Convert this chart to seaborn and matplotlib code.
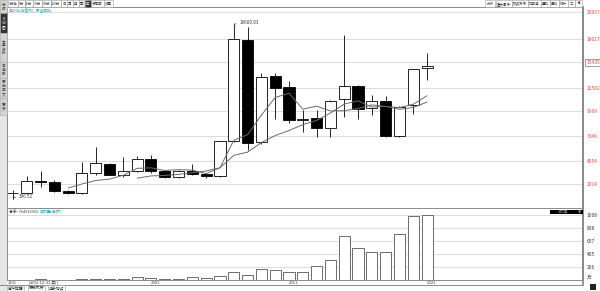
import numpy as np
import pandas as pd
import matplotlib
matplotlib.use("Agg")
import matplotlib.pyplot as plt
from matplotlib.patches import Rectangle
import seaborn as sns

# ---------------- data ----------------
years = list(range(1991, 2022))
opens = [1005, 990, 2300, 2200, 1280, 990, 3190, 4214, 3004, 3400, 4764, 3477, 2817, 3477, 3114,
         2894, 6750, 17900, 6600, 13894, 12717, 9100, 9241, 8207, 11331, 12794, 10341, 11177, 7327, 10704, 14740]
highs = [1400, 2894, 3480, 2400, 1400, 4470, 6100, 4300, 5017, 5094, 5204, 3600, 3600, 4214, 3200,
         6700, 19600.03, 19300, 14257, 14190, 13344, 10154, 10100, 11250, 18404, 12900, 11804, 11694, 10600, 14700, 16457]
lows = [396.52, 950, 1717, 1150, 900, 950, 3000, 2950, 2817, 3300, 3191, 2700, 2700, 2950, 2641,
        2800, 6600, 5754, 6450, 9130, 8691, 7767, 7151, 7151, 9417, 9130, 9604, 7151, 7217, 9714, 13454]
closes = [990, 2340, 2260, 1280, 990, 3190, 4290, 3004, 3400, 4800, 3477, 2817, 3477, 3114, 2894,
          6700, 17964, 6557, 13817, 12607, 9054, 9200, 8207, 11144, 12794, 10297, 11144, 7327, 10517, 14631, 14996]
volumes = [3, 5, 8, 6, 7, 20, 22, 20, 22, 42, 34, 20, 20, 42, 30,
           58, 126, 79, 173, 157, 126, 130, 210, 304, 688, 493, 430, 441, 720, 992, 1008]

price_ticks = [2014, 4554, 7346, 9999, 12582, 15435, 18017, 20957]
vol_ticks = [206, 405, 607, 808, 1008]
x_labels = {0: "1991", 10: "2001", 20: "2011", 30: "2021"}

toolbar_left = ["1分钟", "5分", "15分", "30分", "60分", "120分", "日", "周", "月", "季", "年", "多周期", "设置"]
toolbar_right = ["九转", "重大事件", "热点资讯", "加自选", "叠加", "画线", "统计", "□", "◀"]
side_tabs = ["分时", "K线图", "大盘资料", "自选股", "历史成交", "更多"]
bottom_tabs = ["事件提醒", "历史机会", "选手地点"]

# ---------------- setup ----------------
sns.set_style("white")
plt.rcParams["font.family"] = ["Noto Sans CJK SC", "DejaVu Sans"]
plt.rcParams["axes.unicode_minus"] = False

W, H = 600, 291
fig = plt.figure(figsize=(6.0, 2.91), dpi=100)
fig.patch.set_facecolor("white")


def fx(x):
    return x / W


def fy(y):
    return 1 - y / H


def axes_px(x0, y0, x1, y1):
    return fig.add_axes([fx(x0), fy(y1), fx(x1) - fx(x0), fy(y0) - fy(y1)])


df = pd.DataFrame({"year": years, "open": opens, "high": highs, "low": lows,
                   "close": closes, "volume": volumes})
df["idx"] = np.arange(len(df))
df["ma5"] = df["close"].rolling(5).mean()
df["ma10"] = df["close"].rolling(10).mean()

x_left, x_right = -0.43, 41.3
grid_c = "#dddddd"
edge_c = "#8a8a8a"
red = "#e0453a"
teal = "#2a9fb5"

# ---------------- main price panel ----------------
ax = axes_px(7, 7, 583, 208)
ax.set_xlim(x_left, x_right)
ax.set_ylim(-626, 21484)
for t in price_ticks:
    ax.axhline(t, color=grid_c, lw=0.8, zorder=0)

up = df["close"] >= df["open"]
ax.vlines(df["idx"], df["low"], df["high"], color="black", lw=0.6, zorder=1)
body_bottom = np.minimum(df["open"], df["close"])
body_h = np.maximum(np.abs(df["close"] - df["open"]), 40)
ax.bar(df["idx"], body_h, bottom=body_bottom, width=0.8,
       color=np.where(up, "white", "black"), edgecolor="black", linewidth=0.6, zorder=2)

sns.lineplot(data=df.dropna(subset=["ma5"]), x="idx", y="ma5", ax=ax, color="#6a6a6a", lw=0.7, zorder=3)
sns.lineplot(data=df.dropna(subset=["ma10"]), x="idx", y="ma10", ax=ax, color="#6a6a6a", lw=0.7, zorder=3)

ax.yaxis.tick_right()
ax.set_yticks(price_ticks)
ax.set_yticklabels([str(t) for t in price_ticks])
ax.tick_params(axis="y", length=0, pad=2.5, labelsize=3.5, labelcolor=red)
for lab in ax.get_yticklabels():
    if lab.get_text() == "15435":
        lab.set_bbox(dict(boxstyle="square,pad=0.25", fc="white", ec="#777777", lw=0.5))
ax.set_xticks([])
ax.set_xlabel("")
ax.set_ylabel("")
for s in ["top", "left", "bottom", "right"]:
    ax.spines[s].set_color(edge_c)
    ax.spines[s].set_linewidth(0.7)
ax.spines["right"].set_linewidth(1.2)

# high / low markers
ih = int(df["high"].idxmax())
il = int(df["low"].idxmin())
ax.annotate(f"{df['high'][ih]:.2f}", xy=(ih, df["high"][ih]), xytext=(4, 1), textcoords="offset points",
            fontsize=3.3, va="center", ha="left", color="#333333",
            arrowprops=dict(arrowstyle="-", lw=0.5, color="#333333", shrinkA=0, shrinkB=0))
ax.annotate(f"{df['low'][il]:.2f}", xy=(il, df["low"][il]), xytext=(4, 1.5), textcoords="offset points",
            fontsize=3.3, va="center", ha="left", color="#333333",
            arrowprops=dict(arrowstyle="-", lw=0.5, color="#333333", shrinkA=0, shrinkB=0,
                            connectionstyle="angle,angleA=0,angleB=90,rad=0"))

# ---------------- volume panel ----------------
axv = axes_px(7, 208, 583, 280)
sns.barplot(data=df, x="idx", y="volume", native_scale=True, ax=axv, color="white",
            saturation=1, edgecolor="#555555", linewidth=0.6, width=0.8, zorder=2)
axv.set_xlim(x_left, x_right)
axv.set_ylim(0, 1116)
for t in vol_ticks:
    axv.axhline(t, color=grid_c, lw=0.8, zorder=0)
axv.yaxis.tick_right()
axv.set_yticks(vol_ticks + [40])
axv.set_yticklabels([str(t) for t in vol_ticks] + ["万"])
axv.tick_params(axis="y", length=0, pad=2.5, labelsize=3.5, labelcolor="#333333")
axv.set_xticks([])
axv.set_xlabel("")
axv.set_ylabel("")
for s in ["top", "left", "bottom", "right"]:
    axv.spines[s].set_color(edge_c)
    axv.spines[s].set_linewidth(0.7)
axv.spines["right"].set_linewidth(1.2)

# ---------------- chrome / texts ----------------
# left sidebar
fig.patches.append(Rectangle((0, 0), fx(7), 1, transform=fig.transFigure, fc="#e6e6e6", ec="none", zorder=0))
tab_y = [0, 13, 33, 62, 78, 98, 115]
for i, name in enumerate(side_tabs):
    y0, y1 = tab_y[i], tab_y[i + 1]
    dark = (i == 1)
    fig.patches.append(Rectangle((0, fy(y1)), fx(7), fy(y0) - fy(y1), transform=fig.transFigure,
                                 fc="#333333" if dark else "#d2d2d2", ec="#aaaaaa", lw=0.4, zorder=1))
    fig.text(fx(3.5), fy((y0 + y1) / 2), "\n".join(name), fontsize=2.6, ha="center", va="center",
             color="white" if dark else "#333333", linespacing=1.0, zorder=2)

# top toolbar left (sequential boxes)
tl_x = [8, 18, 25, 33, 42, 51, 61, 67, 73, 79, 85, 91, 104]
tl_w = [9.5, 6.5, 7.5, 8.5, 8.5, 9.5, 5.5, 5.5, 5.5, 5.5, 5.5, 12.5, 9]
for x, w, name in zip(tl_x, tl_w, toolbar_left):
    sel = name == "年"
    fig.patches.append(Rectangle((fx(x), fy(7)), fx(w), fy(0.5) - fy(7), transform=fig.transFigure,
                                 fc="#333333" if sel else "white", ec="#999999", lw=0.4, zorder=3))
    fig.text(fx(x + w / 2), fy(3.8), name, fontsize=2.5, ha="center", va="center",
             color="white" if sel else "#333333", zorder=4)
tr_x = [485, 496, 512, 528, 541, 550, 559, 568, 575]
tr_w = [10, 15.5, 15.5, 12.5, 8.5, 8.5, 8.5, 6.5, 7]
for x, w, name in zip(tr_x, tr_w, toolbar_right):
    fig.patches.append(Rectangle((fx(x), fy(7)), fx(w), fy(0.5) - fy(7), transform=fig.transFigure,
                                 fc="white", ec="#999999", lw=0.4, zorder=3))
    fig.text(fx(x + w / 2), fy(3.8), name, fontsize=2.5, ha="center", va="center", color="#333333", zorder=4)

# panel titles
fig.text(fx(9), fy(10.5), "年K线(前复权)  深证成指", fontsize=2.8, ha="left", va="center", color=teal)
fig.text(fx(9), fy(212), "总手: 764916391", fontsize=2.8, ha="left", va="center", color="#333333")
fig.text(fx(40), fy(212), "成交量(总额)", fontsize=2.8, ha="left", va="center", color=teal)

# black box in volume panel
fig.patches.append(Rectangle((fx(550), fy(213.5)), fx(583) - fx(550), fy(209.5) - fy(213.5),
                             transform=fig.transFigure, fc="black", ec="none", zorder=5))
fig.text(fx(563), fy(211.5), "成交量", fontsize=2.5, ha="center", va="center", color="#888888", zorder=6)
fig.text(fx(580), fy(211.5), "▼", fontsize=2.3, ha="center", va="center", color="#bbbbbb", zorder=6)

# x axis labels
for i, lab in x_labels.items():
    xpix = 13 + 13.8 * i
    fig.text(fx(xpix - 5 if i == 0 else xpix), fy(282.5), lab, fontsize=3.0, ha="left", va="center",
             color="#333333")
fig.text(fx(30), fy(282.5), "1992-12-31,四", fontsize=3.0, ha="left", va="center", color="#333333",
         bbox=dict(boxstyle="square,pad=0.2", fc="white", ec="#777777", lw=0.4))
fig.lines.append(plt.Line2D([0, fx(583)], [fy(285), fy(285)], transform=fig.transFigure,
                            color="#777777", lw=0.6))
fig.lines.append(plt.Line2D([fx(583), fx(583)], [fy(285), fy(7)], transform=fig.transFigure,
                            color="#888888", lw=1.2))

# bottom tabs
bx = [8, 29, 49]
for x, name in zip(bx, bottom_tabs):
    fig.text(fx(x), fy(288.5), name, fontsize=2.8, ha="left", va="center", color="#333333",
             bbox=dict(boxstyle="square,pad=0.2", fc="white", ec="#999999", lw=0.4))
fig.patches.append(Rectangle((fx(590), fy(290)), fx(6), fy(284) - fy(290), transform=fig.transFigure,
                             fc="#222222", ec="none"))

fig.savefig("out.png", dpi=100)
